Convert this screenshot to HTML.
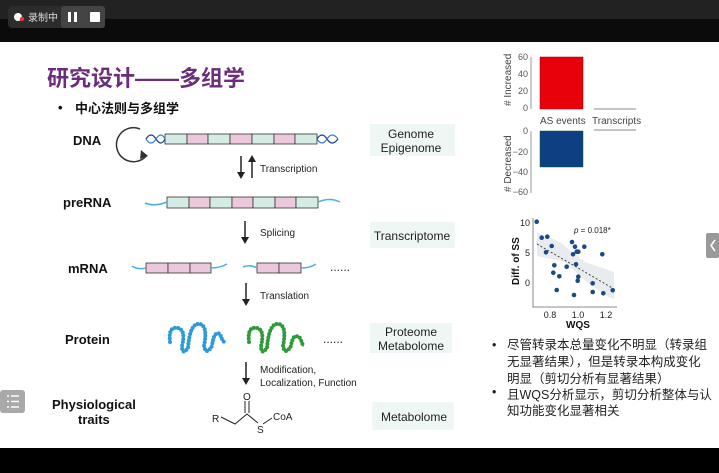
<!DOCTYPE html>
<html><head><meta charset="utf-8"><style>
html,body{margin:0;padding:0;width:719px;height:473px;overflow:hidden;background:#fff}
svg{display:block}
text{font-family:"Liberation Sans","Noto Sans CJK SC",sans-serif}
</style></head><body>
<svg width="719" height="473" viewBox="0 0 719 473" xmlns="http://www.w3.org/2000/svg">
<rect x="0" y="0" width="719" height="42" fill="#0b0b0b"/>
<rect x="0" y="0" width="719" height="19" fill="#222"/>
<rect x="8" y="6" width="97" height="22" rx="4" fill="#2c2c2c"/>
<rect x="61" y="6" width="44" height="22" rx="3" fill="#444"/>
<circle cx="18" cy="17" r="4" fill="#fff"/><circle cx="22" cy="19" r="2.2" fill="#e33"/>
<text x="28" y="21" font-size="10" fill="#ddd">录制中</text>
<rect x="68" y="12" width="3" height="10" fill="#fff"/><rect x="74" y="12" width="3" height="10" fill="#fff"/>
<rect x="90" y="12" width="10" height="10" rx="1" fill="#fff"/>
<rect x="0" y="448" width="719" height="25" fill="#000"/>

<text x="47" y="86" font-size="22" font-weight="bold" fill="#6b2d7b">研究设计——多组学</text>
<text x="58" y="112" font-size="13" font-weight="bold" fill="#111">•</text>
<text x="75" y="113" font-size="13" font-weight="bold" fill="#111">中心法则与多组学</text>

<g font-weight="bold" font-size="13" fill="#111">
<text x="73" y="145">DNA</text>
<text x="63" y="207">preRNA</text>
<text x="68" y="273">mRNA</text>
<text x="65" y="344">Protein</text>
<text x="52" y="409">Physiological</text>
<text x="78" y="424">traits</text>
</g>
<path d="M140 129 A17 17 0 1 0 147 155" fill="none" stroke="#333" stroke-width="1.5"/>
<path d="M141 150 L148 156 L140 159 Z" fill="#333"/>

<g stroke="#333" stroke-width="0.8">
<rect x="165" y="134" width="22" height="10" fill="#d5ece4"/><rect x="187" y="134" width="21" height="10" fill="#ecc8dc"/>
<rect x="208" y="134" width="22" height="10" fill="#d5ece4"/><rect x="230" y="134" width="22" height="10" fill="#ecc8dc"/>
<rect x="252" y="134" width="22" height="10" fill="#d5ece4"/><rect x="274" y="134" width="21" height="10" fill="#ecc8dc"/>
<rect x="295" y="134" width="22" height="10" fill="#d5ece4"/>
<rect x="167" y="197" width="22" height="11" fill="#d5ece4"/><rect x="189" y="197" width="21" height="11" fill="#ecc8dc"/>
<rect x="210" y="197" width="22" height="11" fill="#d5ece4"/><rect x="232" y="197" width="21" height="11" fill="#ecc8dc"/>
<rect x="253" y="197" width="22" height="11" fill="#d5ece4"/><rect x="275" y="197" width="21" height="11" fill="#ecc8dc"/>
<rect x="296" y="197" width="22" height="11" fill="#d5ece4"/>
<rect x="146" y="263" width="22" height="10" fill="#ecc8dc"/><rect x="168" y="263" width="22" height="10" fill="#ecc8dc"/><rect x="190" y="263" width="21" height="10" fill="#ecc8dc"/>
<rect x="257" y="263" width="22" height="10" fill="#ecc8dc"/><rect x="279" y="263" width="22" height="10" fill="#ecc8dc"/>
</g>
<g fill="none" stroke="#1f3a8a" stroke-width="1.2">
<path d="M146 139 Q151 131 156 139 T165 139"/><path d="M146 139 Q151 147 156 139 T165 139" stroke="#3a7bd5"/>
<path d="M317 139 Q322 131 327 139 T338 139"/><path d="M317 139 Q322 147 327 139 T338 139" stroke="#3a7bd5"/>
</g>
<g fill="none" stroke="#4ab0e0" stroke-width="1.5">
<path d="M145 203 Q155 207 167 202"/><path d="M318 202 Q330 197 340 202"/>
<path d="M132 266 Q138 270 146 268"/><path d="M211 268 Q220 268 227 264"/>
<path d="M243 267 Q250 264 257 268"/><path d="M301 268 Q310 268 316 264"/>
</g>
<text x="330" y="271" font-size="12" fill="#222">......</text>
<text x="323" y="343" font-size="12" fill="#222">......</text>

<g fill="#222">
<path d="M241 156 V174" stroke="#222" stroke-width="1.5"/><path d="M237 172 L241 179 L245 172Z"/>
<path d="M252 178 V160" stroke="#222" stroke-width="1.5"/><path d="M248 162 L252 155 L256 162Z"/>
<path d="M245 221 V239" stroke="#222" stroke-width="1.5"/><path d="M241 237 L245 244 L249 237Z"/>
<path d="M246 283 V301" stroke="#222" stroke-width="1.5"/><path d="M242 299 L246 306 L250 299Z"/>
<path d="M246 362 V380" stroke="#222" stroke-width="1.5"/><path d="M242 378 L246 385 L250 378Z"/>
</g>
<g font-size="10" fill="#222">
<text x="260" y="172">Transcription</text>
<text x="260" y="236">Splicing</text>
<text x="260" y="299">Translation</text>
<text x="260" y="373">Modification,</text>
<text x="260" y="386">Localization, Function</text>
</g>
<g fill="none" stroke-linecap="round">
<path d="M170 342 Q168 326 178 328 Q186 330 182 346 Q182 356 188 348 Q190 322 200 324 Q208 326 204 346 Q206 356 212 346 Q214 330 220 334 Q222 340 224 342" stroke="#2c9ad8" stroke-width="1.5"/>
<path d="M170 342 Q168 326 178 328 Q186 330 182 346 Q182 356 188 348 Q190 322 200 324 Q208 326 204 346 Q206 356 212 346 Q214 330 220 334 Q222 340 224 342" stroke="#2c9ad8" stroke-width="4" stroke-dasharray="0 3.3"/>
<path d="M249 342 Q247 326 257 328 Q265 330 261 346 Q261 356 267 348 Q269 322 279 324 Q287 326 283 346 Q285 356 291 346 Q293 332 300 338 Q302 342 303 346" stroke="#2f9a3a" stroke-width="1.5"/>
<path d="M249 342 Q247 326 257 328 Q265 330 261 346 Q261 356 267 348 Q269 322 279 324 Q287 326 283 346 Q285 356 291 346 Q293 332 300 338 Q302 342 303 346" stroke="#2f9a3a" stroke-width="4" stroke-dasharray="0 3.3"/>
</g>

<g fill="#222" font-size="10">
<text x="212" y="422">R</text>
<path d="M221 417 L235 424 L247 414 L258 423" stroke="#222" fill="none"/>
<path d="M245 413 V401 M249 413 V401" stroke="#222"/>
<text x="243" y="400">O</text>
<text x="257" y="433">S</text>
<path d="M263 424 L272 418" stroke="#222"/>
<text x="273" y="420">CoA</text>
</g>

<g fill="#eef7f4">
<rect x="370" y="124" width="85" height="32"/><rect x="370" y="222" width="85" height="26"/>
<rect x="370" y="323" width="82" height="30"/><rect x="372" y="402" width="82" height="28"/>
</g>
<g font-size="12" fill="#222" text-anchor="middle">
<text x="411" y="138">Genome</text><text x="411" y="152">Epigenome</text>
<text x="412" y="240">Transcriptome</text>
<text x="411" y="336">Proteome</text><text x="411" y="350">Metabolome</text>
<text x="414" y="421">Metabolome</text>
</g>

<!-- bar chart -->
<g font-size="9" fill="#555" text-anchor="end">
<text x="528" y="60">60</text><text x="528" y="77">40</text><text x="528" y="94">20</text><text x="528" y="111">0</text>
<text x="528" y="134">0</text><text x="528" y="155">−20</text><text x="528" y="175">−40</text><text x="528" y="195">−60</text>
</g>
<path d="M531 57 V109 M531 131 V193" stroke="#999"/>
<rect x="540" y="57" width="43" height="52" fill="#e8000b" stroke="#900" stroke-width="0.5"/>
<rect x="540" y="131" width="43" height="36" fill="#0d3f82" stroke="#062" stroke-width="0.5"/>
<path d="M594 109 H636 M594 130 H636" stroke="#888"/>
<text x="540" y="124" font-size="10" fill="#444">AS events</text>
<text x="592" y="124" font-size="10" fill="#444">Transcripts</text>
<text transform="translate(511,106) rotate(-90)" font-size="10" fill="#444"># Increased</text>
<text transform="translate(511,192) rotate(-90)" font-size="10" fill="#444"># Decreased</text>

<!-- scatter -->
<polygon points="537,232 560,242 585,262 614,272 614,300 590,285 565,262 537,256" fill="#e9ecef"/>
<path d="M533 218 V307 H617" stroke="#888" fill="none"/>
<line x1="537" y1="244" x2="614" y2="289" stroke="#444" stroke-dasharray="2 2"/>
<g fill="#1a4a86">
<circle cx="536.7" cy="221.7" r="2.3"/><circle cx="541.7" cy="237.7" r="2.3"/><circle cx="547.3" cy="236.7" r="2.3"/><circle cx="546" cy="252.3" r="2.3"/><circle cx="551.7" cy="246" r="2.3"/><circle cx="554.3" cy="265.3" r="2.3"/><circle cx="553.3" cy="272.7" r="2.3"/><circle cx="559.3" cy="276.3" r="2.3"/><circle cx="556.7" cy="290" r="2.3"/><circle cx="566.7" cy="266.7" r="2.3"/><circle cx="572" cy="242" r="2.3"/><circle cx="573" cy="254.3" r="2.3"/><circle cx="575" cy="246.7" r="2.3"/><circle cx="576.7" cy="251.7" r="2.3"/><circle cx="578.3" cy="251.7" r="2.3"/><circle cx="576" cy="264.3" r="2.3"/><circle cx="578.3" cy="276.7" r="2.3"/><circle cx="577.7" cy="280.7" r="2.3"/><circle cx="574" cy="295" r="2.3"/><circle cx="584.3" cy="246.7" r="2.3"/><circle cx="592.7" cy="283.3" r="2.3"/><circle cx="592.7" cy="292" r="2.3"/><circle cx="602.3" cy="254.3" r="2.3"/><circle cx="603.3" cy="293.3" r="2.3"/><circle cx="612.7" cy="290.3" r="2.3"/>
</g>
<g font-size="9" fill="#222" text-anchor="end"><text x="530" y="226">10</text><text x="530" y="256">5</text><text x="530" y="286">0</text></g>
<g font-size="9" fill="#222" text-anchor="middle"><text x="550" y="318">0.8</text><text x="578" y="318">1.0</text><text x="606" y="318">1.2</text></g>
<text x="578" y="328" font-size="10" font-weight="bold" text-anchor="middle" fill="#111">WQS</text>
<text transform="translate(519,285) rotate(-90)" font-size="10" font-weight="bold" fill="#111">Diff. of SS</text>
<text x="574" y="233" font-size="8" fill="#222"><tspan font-style="italic">p</tspan> = 0.018*</text>

<g font-size="12.5" fill="#222">
<text x="492" y="349">•</text><text x="492" y="396">•</text>
<text x="507" y="349">尽管转录本总量变化不明显（转录组</text>
<text x="507" y="366">无显著结果），但是转录本构成变化</text>
<text x="507" y="383">明显（剪切分析有显著结果）</text>
<text x="507" y="399">且WQS分析显示，剪切分析整体与认</text>
<text x="507" y="415">知功能变化显著相关</text>
</g>

<rect x="706" y="233" width="13" height="25" rx="2" fill="#999"/>
<path d="M715 240 L711 245.5 L715 251" stroke="#fff" stroke-width="1.6" fill="none"/>
<rect x="0" y="390" width="25" height="23" rx="3" fill="#a9a9a9"/>
<g stroke="#fff" stroke-width="1.5"><path d="M7 396 H9 M11 396 H19 M7 401.5 H9 M11 401.5 H19 M7 407 H9 M11 407 H19"/></g>
</svg>
</body></html>
